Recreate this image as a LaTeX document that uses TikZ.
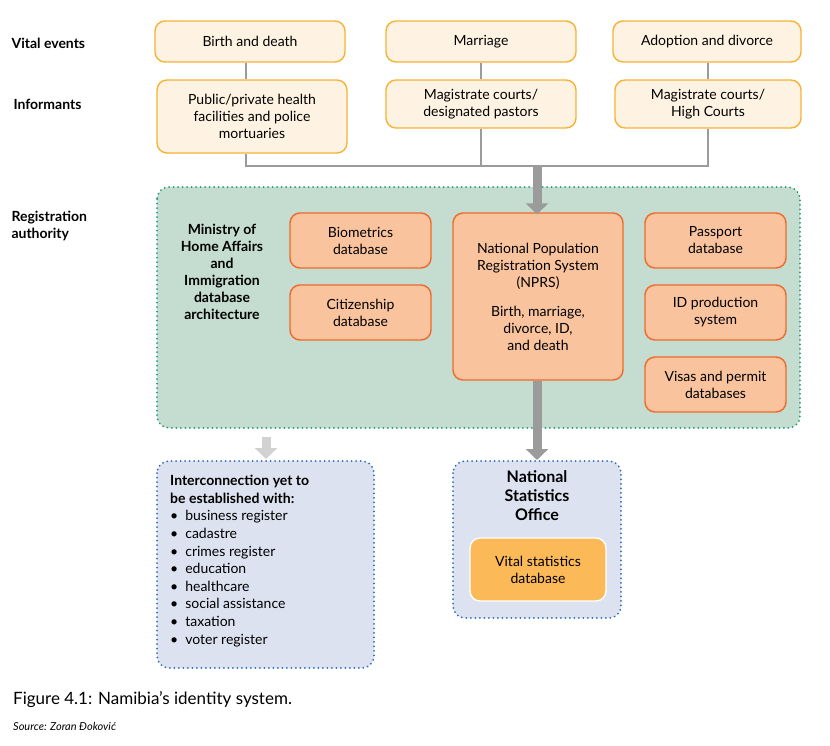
\documentclass[tikz,border=0pt]{standalone}
\usepackage{fontspec}
\setmainfont{Lato}
\usetikzlibrary{positioning,arrows.meta}
\definecolor{cream}{HTML}{FEF3E2}
\definecolor{goldline}{HTML}{F5B335}
\definecolor{peach}{HTML}{F9C39E}
\definecolor{orangeline}{HTML}{EE6A2C}
\definecolor{sage}{HTML}{C5DCD0}
\definecolor{sageline}{HTML}{1A9E77}
\definecolor{lavender}{HTML}{DDE2F0}
\definecolor{blueline}{HTML}{2A6EBB}
\definecolor{amber}{HTML}{FBB957}
\definecolor{linkgray}{HTML}{9B9B9B}
\tikzset{
  txt/.style={font=\fontsize{14}{17}\selectfont, align=center},
  event/.style={txt, draw=goldline, fill=cream, line width=1.4pt, rounded corners=10pt, inner sep=0pt},
  db/.style={txt, draw=orangeline, fill=peach, line width=1.4pt, rounded corners=10pt, inner sep=0pt},
  area/.style={draw=#1, line width=2pt, dash pattern=on 0pt off 4.5pt, line cap=round, rounded corners=12pt},
  rowlabel/.style={font=\bfseries\fontsize{14}{17}\selectfont, align=left, anchor=west},
  link/.style={draw=linkgray, line width=2pt},
  fatarrow/.style={draw=#1, line width=9pt, -{Triangle[length=11pt,width=22pt]}},
}
\begin{document}
\begin{tikzpicture}[x=1pt,y=-1pt]
  \useasboundingbox (0,0) rectangle (830,745);
  % row labels
  \node[rowlabel] (lblevents) at (8,43) {Vital events};
  \node[rowlabel] (lblinf) at (10,104) {Informants};
  \node[rowlabel] (lblreg) at (8,226) {Registration\\authority};
  % vital events and informants
  \node[event, minimum width=190pt, minimum height=41pt] (birth) at (250,41.5) {Birth and death};
  \node[event, minimum width=190pt, minimum height=41pt] (marriage) at (481,41.5) {Marriage};
  \node[event, minimum width=188pt, minimum height=41pt] (adoption) at (707,41.5) {Adoption and divorce};
  \node[event, minimum width=190pt, minimum height=73pt] (health) at (252,116.5) {Public/private health\\facilities and police\\mortuaries};
  \node[event, minimum width=190pt, minimum height=48pt] (courts) at (481,104) {Magistrate courts/\\designated pastors};
  \node[event, minimum width=186pt, minimum height=48pt] (high) at (708,104) {Magistrate courts/\\High Courts};
  \coordinate (jbirth) at (246,166);
  \coordinate (jmarr) at (481,166);
  \coordinate (jadopt) at (708,166);
  \coordinate (jin) at (537,166);
  \draw[link] (birth.south -| jbirth) -- (health.north -| jbirth);
  \draw[link] (marriage) -- (courts);
  \draw[link] (adoption.south -| jadopt) -- (high.north -| jadopt);
  \draw[link] (health.south -| jbirth) -- (jbirth) -- (jadopt) -- (high.south -| jadopt);
  \draw[link] (courts) -- (jmarr);
  % registration authority
  \draw[area=sageline, fill=sage] (157,187) rectangle (800,428);
  \node[font=\bfseries\fontsize{14}{17}\selectfont, align=center] (ministry) at (222,272) {Ministry of\\Home Affairs\\and\\Immigration\\database\\architecture};
  \node[db, minimum width=141pt, minimum height=55pt] (bio) at (360.5,240.5) {Biometrics\\database};
  \node[db, minimum width=141pt, minimum height=55pt] (citizen) at (360.5,312.5) {Citizenship\\database};
  \node[db, minimum width=170pt, minimum height=167pt] (nprs) at (538,296.5) {National Population\\Registration System\\(NPRS)\\[12pt]Birth, marriage,\\divorce, ID,\\and death};
  \node[db, minimum width=141pt, minimum height=55pt] (passport) at (715.5,240.5) {Passport\\database};
  \node[db, minimum width=141pt, minimum height=55pt] (idprod) at (715.5,312.5) {ID production\\system};
  \node[db, minimum width=141pt, minimum height=55pt] (visas) at (715.5,384.5) {Visas and permit\\databases};
  \draw[fatarrow=linkgray] (jin) -- ([yshift=-2pt]nprs.north -| jin);
  % outputs
  \draw[area=blueline, fill=lavender] (157,461) rectangle (374,668);
  \node[anchor=north west, font=\fontsize{14}{17.6}\selectfont, align=left, inner sep=0pt] (inter) at (170,475)
    {\textbf{Interconnection yet to}\\\textbf{be established with:}\\
     \textbullet\enspace business register\\\textbullet\enspace cadastre\\\textbullet\enspace crimes register\\
     \textbullet\enspace education\\\textbullet\enspace healthcare\\\textbullet\enspace social assistance\\
     \textbullet\enspace taxation\\\textbullet\enspace voter register};
  \draw[area=blueline, fill=lavender] (453,461) rectangle (621,618);
  \node[font=\bfseries\fontsize{16}{19}\selectfont, align=center] (nso) at (537,496) {National\\Statistics\\Office};
  \node[txt, draw=white, fill=amber, line width=1.4pt, rounded corners=10pt, minimum width=136pt, minimum height=63pt] (vital) at (538,569.5) {Vital statistics\\database};
  \coordinate (nsotop) at (537,460);
  \coordinate (intop) at (266,459);
  \coordinate (greenbot) at (266,437);
  \draw[fatarrow=linkgray] (nprs.south -| nsotop) -- (nsotop);
  \draw[fatarrow=linkgray!45] (greenbot) -- (intop);
  % caption
  \node[anchor=west, font=\fontsize{17}{20}\selectfont, inner sep=0pt] (caption) at (13,700) {Figure 4.1: Namibia's identity system.};
  \node[anchor=west, font=\itshape\fontsize{11}{13}\selectfont, inner sep=0pt] (source) at (13,726) {Source: Zoran Đoković};
\end{tikzpicture}
\end{document}
